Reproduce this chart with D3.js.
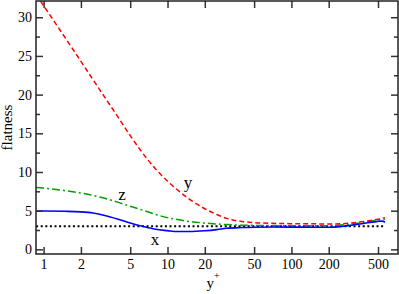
<!DOCTYPE html>
<html>
<head>
<meta charset="utf-8">
<script src="https://cdn.jsdelivr.net/npm/d3@7"></script>
<style>
  body { margin: 0; background: #fff; }
  svg { display: block; font-family: "Liberation Serif", serif; }
</style>
</head>
<body>
<svg id="chart" width="399" height="294"></svg>
<script>
// wall-normal positions (y+) shared by all curves
const yPlus = [0.87, 1, 1.5, 2, 2.5, 3, 4, 5, 6, 7, 8, 10, 12, 15, 20, 25, 30, 40, 50, 70, 100, 150, 200, 250, 300, 400, 500, 540, 570];
const flatX = [4.95, 4.95, 4.92, 4.85, 4.7, 4.45, 3.9, 3.4, 3.05, 2.8, 2.6, 2.42, 2.3, 2.3, 2.4, 2.55, 2.72, 2.82, 2.86, 2.88, 2.88, 2.86, 2.85, 2.95, 3.1, 3.4, 3.62, 3.65, 3.5];
const flatY = [32.95, 31.5, 27.3, 24.3, 21.95, 20.05, 17.05, 14.7, 12.9, 11.5, 10.4, 8.8, 7.7, 6.5, 5.25, 4.5, 4.0, 3.6, 3.45, 3.36, 3.32, 3.3, 3.28, 3.3, 3.4, 3.65, 3.9, 4.0, 4.1];
const flatZ = [8.0, 7.92, 7.58, 7.27, 6.97, 6.67, 6.07, 5.58, 5.17, 4.82, 4.52, 4.1, 3.85, 3.6, 3.4, 3.28, 3.2, 3.12, 3.1, 3.08, 3.05, 3.05, 3.05, 3.15, 3.25, 3.55, 3.78, 3.85, 3.9];
// gaussian reference
const refX = [0.87, 560];
const refY = [3, 3];

const xTicks = [1, 2, 5, 10, 20, 50, 100, 200, 500];
const yTicks = [0, 5, 10, 15, 20, 25, 30];
const yMinor = [2.5, 7.5, 12.5, 17.5, 22.5, 27.5];

const labels = [
  { text: "z", at: 4.29, v: 6.38 },
  { text: "y", at: 14.6, v: 7.93 },
  { text: "x", at: 7.93, v: 0.56 }
];

const svg = d3.select("#chart");
const mLeft = 36, mRight = 398, mTop = 1, mBottom = 254;

const x = d3.scaleLog().domain([0.868, 725]).range([mLeft, mRight]);
const y = d3.scaleLinear().domain([-0.6, 32.1]).range([mBottom, mTop]);

svg.append("clipPath").attr("id", "clip")
  .append("rect").attr("x", mLeft).attr("y", mTop).attr("width", mRight - mLeft).attr("height", mBottom - mTop);

const plot = svg.append("g").attr("clip-path", "url(#clip)");

function drawLine(xs, ys, color, dash, width) {
  const pts = xs.map((d, i) => [d, ys[i]]);
  const line = d3.line().x(d => x(d[0])).y(d => y(d[1])).curve(d3.curveMonotoneX);
  plot.append("path").datum(pts)
    .attr("d", line)
    .attr("fill", "none")
    .attr("stroke", color)
    .attr("stroke-width", width)
    .attr("stroke-dasharray", dash);
}

drawLine(refX, refY, "#000", "2,2.6", 2);
drawLine(yPlus, flatZ, "#00a000", "8,3,2,3", 1.5);
drawLine(yPlus, flatY, "#ff0000", "5,3", 1.5);
drawLine(yPlus, flatX, "#0000ff", null, 1.6);

// axes with inward ticks
const fmt = d3.format("d");
const gb = svg.append("g").attr("transform", `translate(0,${mBottom})`)
  .call(d3.axisBottom(x).tickValues(xTicks).tickSize(-7).tickPadding(5).tickFormat(fmt));
const gt = svg.append("g").attr("transform", `translate(0,${mTop})`)
  .call(d3.axisTop(x).tickValues(xTicks).tickSize(-7).tickFormat(""));
const gl = svg.append("g").attr("transform", `translate(${mLeft},0)`)
  .call(d3.axisLeft(y).tickValues(yTicks).tickSize(-7).tickPadding(4).tickFormat(fmt));
const glm = svg.append("g").attr("transform", `translate(${mLeft},0)`)
  .call(d3.axisLeft(y).tickValues(yMinor).tickSize(-4).tickFormat(""));
const gr = svg.append("g").attr("transform", `translate(${mRight},0)`)
  .call(d3.axisRight(y).tickValues(yTicks).tickSize(-7).tickFormat(""));
const grm = svg.append("g").attr("transform", `translate(${mRight},0)`)
  .call(d3.axisRight(y).tickValues(yMinor).tickSize(-4).tickFormat(""));

[gb, gt, gl, glm, gr, grm].forEach(g => {
  g.select(".domain").remove();
  g.selectAll(".tick line").attr("stroke", "#333").attr("stroke-width", 1.5);
  g.selectAll(".tick text").attr("fill", "#000").style("font-size", "14px").style("font-family", "Liberation Serif");
});

svg.append("rect")
  .attr("x", mLeft).attr("y", mTop)
  .attr("width", mRight - mLeft).attr("height", mBottom - mTop)
  .attr("fill", "none").attr("stroke", "#222").attr("stroke-width", 1.5);

// axis titles
svg.append("text")
  .attr("transform", `translate(12,${(mTop + mBottom) / 2}) rotate(-90)`)
  .attr("text-anchor", "middle")
  .style("font-size", "15px")
  .text("flatness");

const xt = svg.append("text")
  .attr("x", (mLeft + mRight) / 2 - 4).attr("y", 288)
  .attr("text-anchor", "middle")
  .style("font-size", "15px");
xt.append("tspan").text("y");
xt.append("tspan").attr("dy", -9).style("font-size", "10px").text("+");

// curve labels
svg.selectAll(".lbl").data(labels).join("text")
  .attr("class", "lbl")
  .attr("x", d => x(d.at)).attr("y", d => y(d.v))
  .attr("text-anchor", "middle")
  .style("font-size", "17px")
  .text(d => d.text);
</script>
</body>
</html>
